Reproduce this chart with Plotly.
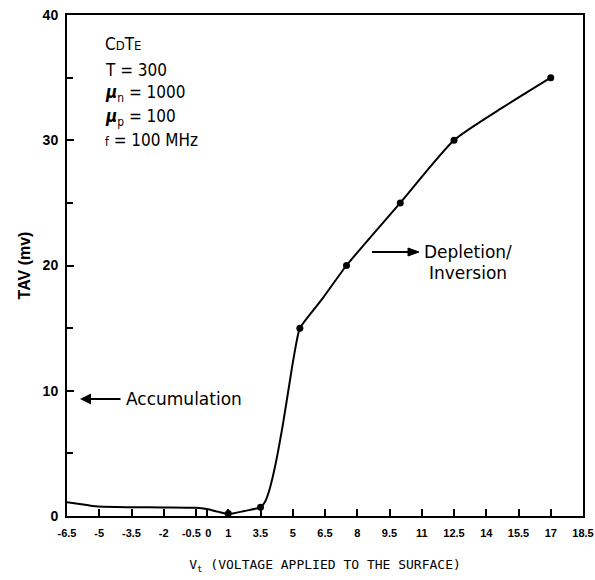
import numpy as np
import plotly.graph_objects as go

# ---- data ----
# axis tick labels as printed (the printed scale is not uniform around 0..3.5)
tick_labels = ["-6.5", "-5", "-3.5", "-2", "-0.5\u00a0\u00a0\u00a0", "\u00a00", "1", "3.5", "5", "6.5",
               "8", "9.5", "11", "12.5", "14", "15.5", "17", "18.5"]
tick_values = [-6.5, -5, -3.5, -2, -0.5, 0, 1, 3.5, 5, 6.5, 8, 9.5, 11, 12.5,
               14, 15.5, 17, 18.5]

# measured points (markers)
point_v = [1, 3.5, 5.33, 7.5, 10, 12.5, 17]
point_mv = [0.2, 0.7, 15, 20, 25, 30, 35]

# traced curve
curve_v = [-6.5, -5.5, -5, -3.5, -2, -0.5, 0, 0.5, 1, 2.25, 3.5, 3.7, 3.9, 4.17,
           4.55, 4.97, 5.2, 5.33, 6.4, 7.5, 10, 12.5, 14.75, 17]
curve_mv = [1.1, 0.85, 0.75, 0.7, 0.68, 0.65, 0.55, 0.35, 0.15, 0.4, 0.7, 1.1,
            2.0, 3.9, 7.4, 11.9, 14.1, 15, 17.4, 20, 25, 30, 32.6, 35]

y_ticks = [0, 10, 20, 30, 40]
y_minor = [5, 15, 25, 35]

# ---- printed axis: labels evenly spaced except the extra "0" tick ----
printed = [v for v in tick_values if v != 0]
printed_pos = list(range(len(printed)))
zero_pos = printed_pos[4] + (0 - (-0.5)) / (1 - (-0.5))
tick_pos = printed_pos[:5] + [zero_pos] + printed_pos[5:]


def to_axis(v):
    return np.interp(v, tick_values, tick_pos)


fig = go.Figure()
fig.add_trace(go.Scatter(
    x=to_axis(curve_v), y=curve_mv, mode="lines",
    line=dict(color="black", width=2, shape="spline", smoothing=0.6),
    hoverinfo="skip", showlegend=False))
fig.add_trace(go.Scatter(
    x=to_axis(point_v), y=point_mv, mode="markers",
    marker=dict(color="black", size=7), showlegend=False))

# plot area in pixels
L, R, T, B = 67, 583, 15, 516
W, H = 595, 580


def px(xp, yp):
    return (xp - L) / (R - L), (B - yp) / (B - T)


fig.update_layout(
    width=W, height=H,
    margin=dict(l=L, r=W - R, t=T, b=H - B),
    paper_bgcolor="white", plot_bgcolor="white",
    xaxis=dict(
        range=[0, tick_pos[-1]], tickmode="array", tickvals=tick_pos,
        ticktext=tick_labels, ticks="inside", ticklen=7, tickwidth=1.5,
        tickcolor="black", showgrid=False, zeroline=False, tickangle=0,
        showline=True, linecolor="black", linewidth=2, mirror=True,
        automargin=False,
        tickfont=dict(family="Liberation Sans", size=11, color="black", weight="bold"),
        ticklabelstandoff=6,
        title=dict(text="V<sub>t</sub> (VOLTAGE APPLIED TO THE SURFACE)",
                   font=dict(family="DejaVu Sans Mono", size=13, color="black"),
                   standoff=22),
    ),
    yaxis=dict(
        range=[0, 40], tickmode="array", tickvals=y_ticks,
        ticks="inside", ticklen=7, tickwidth=1.5, tickcolor="black",
        showgrid=False, zeroline=False, automargin=False,
        showline=True, linecolor="black", linewidth=2, mirror=True,
        tickfont=dict(family="Liberation Sans", size=14, color="black", weight="bold"),
        ticklabelstandoff=4,
        minor=dict(tickvals=y_minor, ticks="inside", ticklen=6, tickcolor="black", tickwidth=1.5),
        title=dict(text="TAV (mv)",
                   font=dict(family="Liberation Sans", size=16, color="black", weight="bold"),
                   standoff=8),
    ),
)

info_font = dict(family="Liberation Sans Narrow, DejaVu Sans Condensed, Liberation Sans", size=17, color="black")
info_lines = [
    ("C<span style='font-size:13px'>D</span>T<span style='font-size:13px'>E</span>", 44),
    ("T = 300", 70),
    ("<b><i>\u03bc</i></b><sub>n</sub> = 1000", 94),
    ("<b><i>\u03bc</i></b><sub>p</sub> = 100", 117),
    ("<span style='font-size:12px'>f</span> = 100 MHz", 140),
]
for txt, yp in info_lines:
    xa, ya = px(103, yp)
    fig.add_annotation(x=xa, y=ya, xref="paper", yref="paper", text=txt,
                       showarrow=False, xanchor="left", yanchor="middle",
                       font=info_font)

label_font = dict(family="DejaVu Sans", size=17, color="black")

# Accumulation (arrow drawn from the label toward the left axis)
hx, hy = px(80, 399)
fig.add_annotation(x=hx, y=hy, xref="paper", yref="paper", text="Accumulation",
                   showarrow=True, ax=104, ay=0, xanchor="center", yanchor="middle",
                   arrowhead=2, arrowsize=1.1, arrowwidth=2, arrowcolor="black",
                   startstandoff=4, font=label_font)

# Depletion / Inversion
xa, ya = px(468, 252)
fig.add_annotation(x=xa, y=ya, xref="paper", yref="paper", text="Depletion/",
                   showarrow=False, xanchor="center", yanchor="middle", font=label_font)
xa, ya = px(468, 273)
fig.add_annotation(x=xa, y=ya, xref="paper", yref="paper", text="Inversion",
                   showarrow=False, xanchor="center", yanchor="middle", font=label_font)

# arrow pointing to the Depletion label (shapes)
x0, y0 = px(372, 252)
x1, _ = px(410, 252)
fig.add_shape(type="line", xref="paper", yref="paper", x0=x0, y0=y0, x1=x1, y1=y0,
              line=dict(color="black", width=2))
ta, tb = px(408, 248)
tc, td = px(419, 252)
te, tf = px(408, 256)
fig.add_shape(type="path", xref="paper", yref="paper",
              path=f"M {ta} {tb} L {tc} {td} L {te} {tf} Z",
              fillcolor="black", line=dict(color="black", width=1))

fig.write_html("out.html")
